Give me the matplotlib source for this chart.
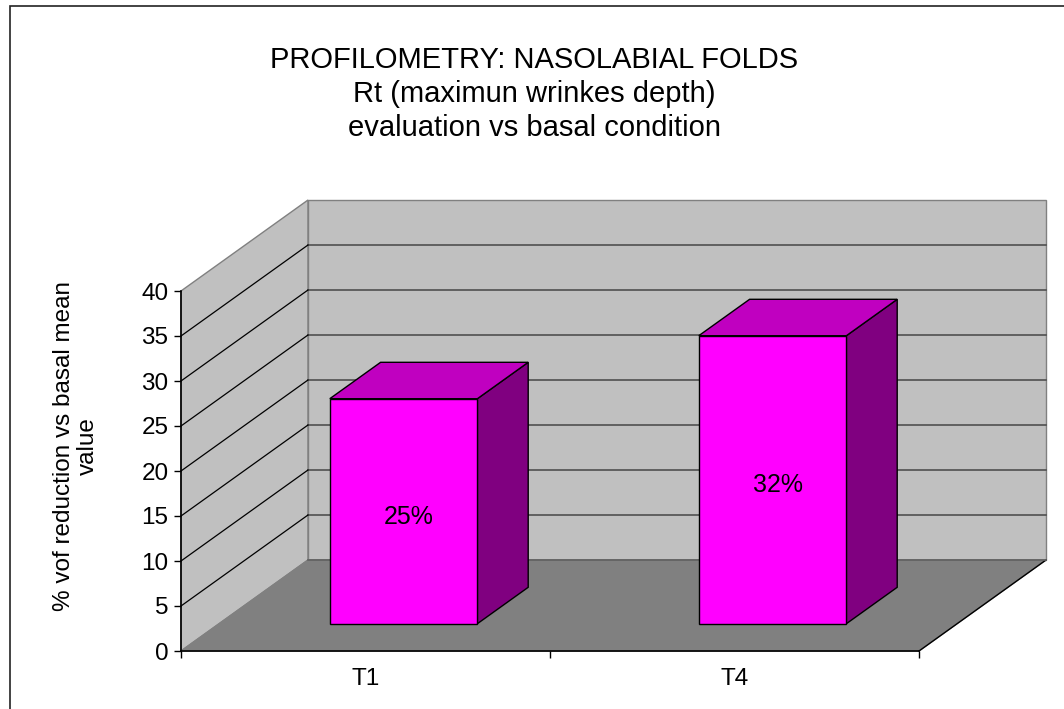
import matplotlib
matplotlib.use('Agg')
import matplotlib.pyplot as plt
from matplotlib.patches import Polygon, Rectangle

plt.rcParams['font.family'] = ['Liberation Sans', 'DejaVu Sans']

# data
categories = ['T1', 'T4']
values = [25, 32]
value_labels = ['25%', '32%']
y_ticks = [0, 5, 10, 15, 20, 25, 30, 35, 40]
title_lines = ['PROFILOMETRY: NASOLABIAL FOLDS',
               'Rt (maximun wrinkes depth)',
               'evaluation vs basal condition']
y_label = '% vof reduction vs basal mean\nvalue'

W, H = 1064, 709
fig = plt.figure(figsize=(W / 100, H / 100), dpi=100)

# axes: front plane of the 3d box, x in category units, y in value units
ax = fig.add_axes([181 / W, (H - 651) / H, 738 / W, 360 / H])
ax.set_xlim(0, len(categories))
ax.set_ylim(0, 40)
ax.patch.set_visible(False)

# depth of the box, in data units
DX = 127 / 369
DY = 91 / 9
YMAX = 40
XMAX = len(categories)


def poly(pts, fc, ec, lw=1.0, z=1):
    p = Polygon(pts, closed=True, facecolor=fc, edgecolor=ec, linewidth=lw,
                zorder=z, clip_on=False)
    ax.add_patch(p)


wall = '#c0c0c0'
floor = '#808080'
edge = '#808080'

# left wall, back wall, floor
poly([(0, 0), (DX, DY), (DX, YMAX + DY), (0, YMAX)], wall, edge, z=1)
poly([(DX, DY), (XMAX + DX, DY), (XMAX + DX, YMAX + DY), (DX, YMAX + DY)], wall, edge, z=1)
poly([(0, 0), (XMAX, 0), (XMAX + DX, DY), (DX, DY)], floor, edge, z=1.5)
ax.plot([XMAX, XMAX + DX], [0, DY], color='black', lw=1, zorder=1.6, clip_on=False)
ax.plot([DX, XMAX + DX], [DY, DY], color='#606060', lw=1.2, zorder=1.6, clip_on=False)

# gridlines
for v in y_ticks[1:-1]:
    ax.plot([DX, XMAX + DX], [v + DY, v + DY], color='#505050', lw=1.2, zorder=1.2, clip_on=False)
    ax.plot([0, DX], [v, v + DY], color='black', lw=0.9, zorder=1.2, clip_on=False)

# bars
d0, d1 = 0.3, 0.7
half = 0.2
for i, (cat, v, lab) in enumerate(zip(categories, values, value_labels)):
    c = i + 0.5
    xl, xr = c - half, c + half
    f0x, f0y = d0 * DX, d0 * DY
    b0x, b0y = d1 * DX, d1 * DY
    # side
    poly([(xr + f0x, f0y), (xr + b0x, b0y), (xr + b0x, v + b0y), (xr + f0x, v + f0y)],
         '#800080', 'black', z=3)
    # top
    poly([(xl + f0x, v + f0y), (xr + f0x, v + f0y), (xr + b0x, v + b0y), (xl + b0x, v + b0y)],
         '#c000c0', 'black', z=3)
    # front
    poly([(xl + f0x, f0y), (xr + f0x, f0y), (xr + f0x, v + f0y), (xl + f0x, v + f0y)],
         '#ff00ff', 'black', z=3.5)
    ax.text(c + f0x + 0.015, f0y + v / 2 - 0.6, lab, ha='center', va='center',
            fontsize=18, zorder=4)

# axes styling
for s in ['top', 'right']:
    ax.spines[s].set_visible(False)
for s in ['left', 'bottom']:
    ax.spines[s].set_color('black')
    ax.spines[s].set_linewidth(1.2)
    ax.spines[s].set_zorder(5)

ax.set_yticks(y_ticks)
ax.set_yticklabels([str(t) for t in y_ticks])
ax.set_xticks(range(XMAX + 1))
ax.set_xticklabels([])
ax.set_xticks([i + 0.5 for i in range(XMAX)], minor=True)
ax.set_xticklabels(categories, minor=True)
ax.tick_params(axis='y', direction='out', length=5, width=1, pad=4, labelsize=17.5)
ax.tick_params(axis='x', which='major', direction='out', length=5, width=1)
ax.tick_params(axis='x', which='minor', length=0, pad=12, labelsize=17.5)

# title and y label
for k, line in enumerate(title_lines):
    fig.text(534 / W, 1 - (60 + 34 * k) / H, line, ha='center', va='center', fontsize=21)
fig.text(76 / W, 1 - 446 / H, y_label, ha='center', va='center', rotation=90,
         multialignment='center', fontsize=17.5, linespacing=1.15)

# outer frame
fig.patches.append(Rectangle((10 / W, -0.1), 2, 1.1 - 6 / H, transform=fig.transFigure,
                             fill=False, edgecolor='#222222', linewidth=1.2))

fig.savefig('out.png', dpi=100)
